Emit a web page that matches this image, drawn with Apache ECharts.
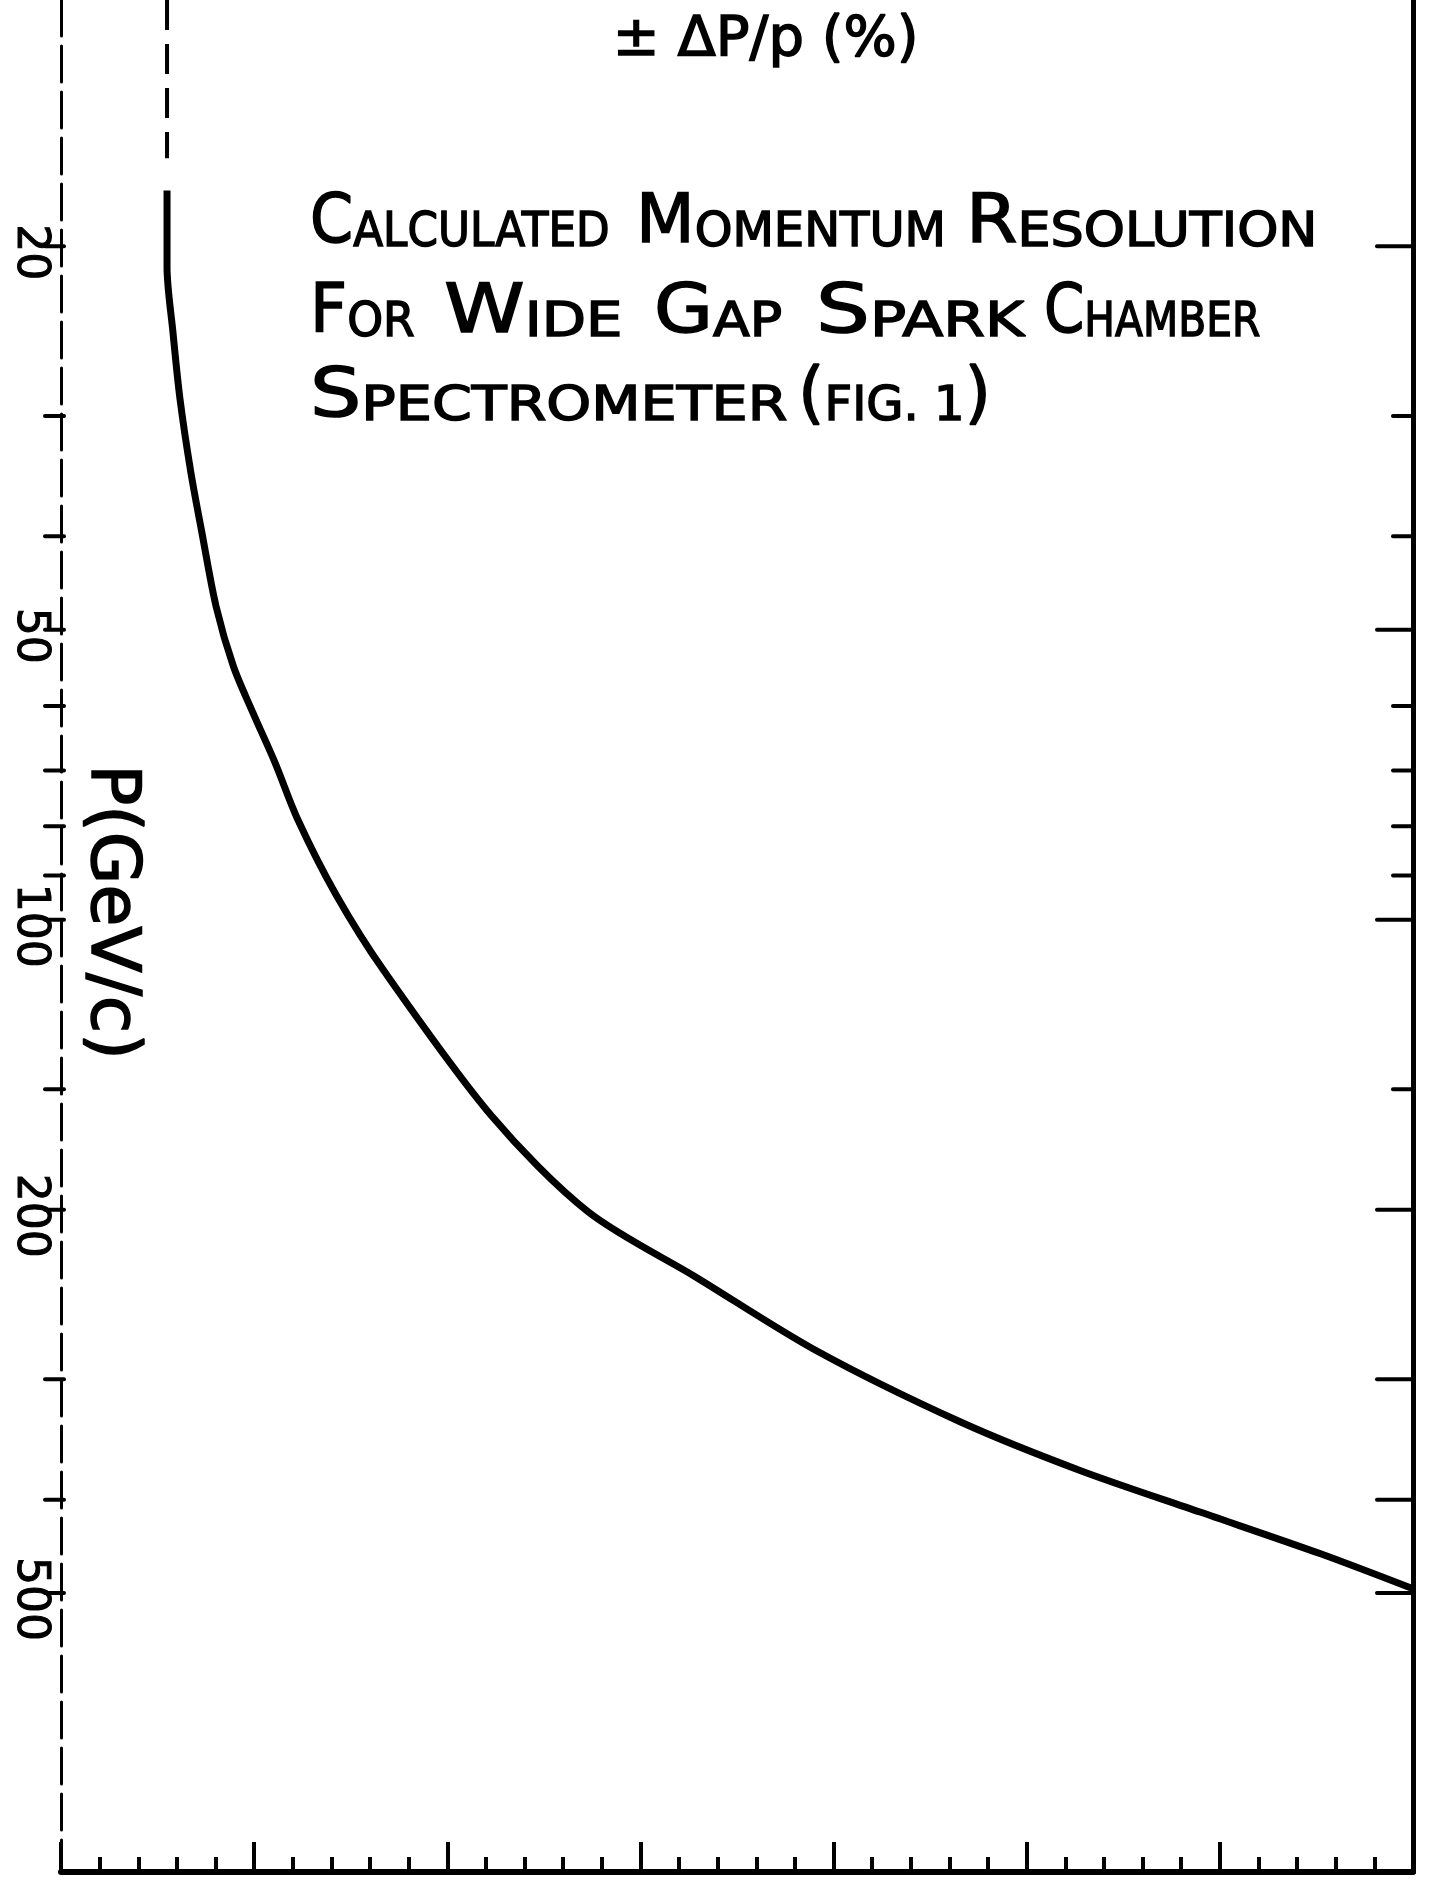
<!DOCTYPE html>
<html>
<head>
<meta charset="utf-8">
<script src="https://cdn.jsdelivr.net/npm/echarts@6/dist/echarts.min.js"></script>
<style>
html,body{margin:0;padding:0;background:#fff;}
#chart{width:1432px;height:1881px;}
</style>
</head>
<body>
<div id="chart"></div>
<script>
// ---- data ----
// curve: momentum resolution ±ΔP/p (%) versus P (GeV/c)
const curveDP = [0.549, 0.549, 0.580, 0.616, 0.672, 0.727, 0.803, 0.893, 0.994, 1.108, 1.227, 1.424, 1.672, 2.231, 2.729, 3.288, 3.909, 4.655, 5.276, 5.897, 6.518, 7.0];
const curveP  = [17.5, 21.0, 24.6, 28.8, 34.3, 39.4, 47.3, 54.6, 61.0, 68.7, 78.8, 94.2, 113, 160, 201, 235, 280, 332, 373, 412, 455, 495];
// faint broken continuation at the top of the curve
const topDP = [0.549, 0.549];
const topP  = [11.1, 16.2];
// P axis (log) ticks and labels
const leftTickP = [20, 30, 40, 50, 60, 70, 80, 90, 100, 150, 200, 300, 400, 500];
const rightLongTickP = [20, 50, 100, 200, 300, 400, 500];
const rightShortTickP = [30, 40, 60, 70, 80, 90, 150];
const pLabelValues = [20, 50, 100, 200, 500];
const pLabelTexts = ['20', '50', '100', '200', '500'];
// ΔP/p axis range (labels not visible in the reference)
const dpMin = 0, dpMax = 7, dpInterval = 1, dpMinorSplit = 5;
const pMin = 11.1, pMax = 974;

// hand-lettered title, word by word
const titleWords = [
  ['{b|C}{s|ALCULATED}', '{b|M}{s|OMENTUM}', '{b|R}{s|ESOLUTION}'],
  ['{b|F}{s|OR}', '{b|W}{s|IDE}', '{b|G}{s|AP}', '{b|S}{s|PARK}', '{b|C}{s|HAMBER}'],
  ['{b|S}{s|PECTROMETER}', '{b|(}{s|FIG. 1}{b|)}']
];
const topAxisTitle = '± ΔP/p (%)';
const pAxisTitle = 'P(GeV/c)';

const FONT = '"DejaVu Sans", "Liberation Sans", sans-serif';
const chart = echarts.init(document.getElementById('chart'), null, {renderer: 'canvas'});

function tickSeries(values, xVal, x1off, x2off, width) {
  return {
    type: 'custom', coordinateSystem: 'cartesian2d', xAxisIndex: 0, yAxisIndex: 0,
    silent: true, clip: false, z: 5,
    data: values.map(p => [xVal, p]),
    renderItem: function (params, api) {
      const pt = api.coord([api.value(0), api.value(1)]);
      return {
        type: 'line',
        shape: {x1: pt[0] + x1off, y1: pt[1], x2: pt[0] + x2off, y2: pt[1]},
        style: {stroke: '#000', lineWidth: width, lineCap: 'round'}
      };
    }
  };
}

const richTitle = {
  b: {fontSize: 68, fontFamily: FONT, fill: '#000', stroke: '#000', lineWidth: 1.5, verticalAlign: 'bottom', lineHeight: 70},
  s: {fontSize: 48, fontFamily: FONT, fill: '#000', stroke: '#000', lineWidth: 1.5, verticalAlign: 'bottom', lineHeight: 70}
};
// word layout: [left, top, horizontal stretch]
const wordLayout = [
  [[310, 188, 0.91], [636, 188, 1.0], [966, 188, 1.09]],
  [[310, 278, 0.95], [444, 278, 1.2], [654, 278, 1.12], [816, 278, 1.25], [1044, 278, 0.85]],
  [[310, 362, 1.19], [798, 362, 1.0]]
];
const titleGraphics = [];
titleWords.forEach((line, li) => line.forEach((w, wi) => {
  const lay = wordLayout[li][wi];
  titleGraphics.push({
    type: 'text', x: lay[0], y: lay[1], scaleX: lay[2], originX: 0, originY: 0,
    style: {text: w, rich: richTitle, x: 0, y: 0, align: 'left', verticalAlign: 'top'}
  });
}));

const option = {
  backgroundColor: '#fff',
  animation: false,
  grid: {left: 61, right: 19, top: 0, bottom: 9, containLabel: false},
  xAxis: {
    type: 'value', min: dpMin, max: dpMax, interval: dpInterval,
    axisLine: {show: true, onZero: false, lineStyle: {color: '#000', width: 6}},
    axisTick: {show: true, inside: true, length: 30, lineStyle: {color: '#000', width: 4}},
    minorTick: {show: true, splitNumber: dpMinorSplit, length: 15, lineStyle: {color: '#000', width: 4}},
    axisLabel: {show: false},
    splitLine: {show: false}
  },
  yAxis: [
    {
      type: 'log', logBase: 10, min: pMin, max: pMax, inverse: true, position: 'left',
      axisLine: {show: true, lineStyle: {color: '#000', width: 3, type: [36, 10]}},
      axisTick: {show: false}, axisLabel: {show: false}, splitLine: {show: false}
    },
    {
      type: 'log', logBase: 10, min: pMin, max: pMax, inverse: true, position: 'right',
      axisLine: {show: true, lineStyle: {color: '#000', width: 5}},
      axisTick: {show: false}, axisLabel: {show: false}, splitLine: {show: false}
    }
  ],
  series: [
    {
      type: 'line', xAxisIndex: 0, yAxisIndex: 0, smooth: 0.3, symbol: 'none',
      lineStyle: {color: '#000', width: 7}, z: 10,
      data: curveDP.map((x, i) => [x, curveP[i]])
    },
    {
      type: 'line', xAxisIndex: 0, yAxisIndex: 0, symbol: 'none',
      lineStyle: {color: '#000', width: 4, type: [30, 14]}, z: 10,
      data: topDP.map((x, i) => [x, topP[i]])
    },
    tickSeries(leftTickP, dpMin, -16, 3, 4),
    tickSeries(rightLongTickP, dpMax, -36, 0, 4),
    tickSeries(rightShortTickP, dpMax, -20, 0, 4),
    {
      type: 'custom', coordinateSystem: 'cartesian2d', xAxisIndex: 0, yAxisIndex: 0,
      silent: true, clip: false, z: 6,
      data: pLabelValues.map(p => [dpMin, p]),
      renderItem: function (params, api) {
        const pt = api.coord([api.value(0), api.value(1)]);
        return {
          type: 'text', x: pt[0] - 32, y: pt[1] + 6, rotation: -Math.PI / 2,
          style: {text: pLabelTexts[params.dataIndex], font: '44px ' + FONT, fill: '#000', stroke: '#000', lineWidth: 1,
            align: 'center', verticalAlign: 'middle'}
        };
      }
    }
  ],
  graphic: [
    {type: 'text', left: 612, top: 12, style: {text: topAxisTitle, font: '56px ' + FONT, fill: '#000', stroke: '#000', lineWidth: 1.5}},
    {type: 'text', x: 110, y: 912, rotation: -Math.PI / 2,
      style: {text: pAxisTitle, font: '68px ' + FONT, fill: '#000', stroke: '#000', lineWidth: 1.5, align: 'center', verticalAlign: 'middle'}}
  ].concat(titleGraphics)
};
chart.setOption(option);
</script>
</body>
</html>
